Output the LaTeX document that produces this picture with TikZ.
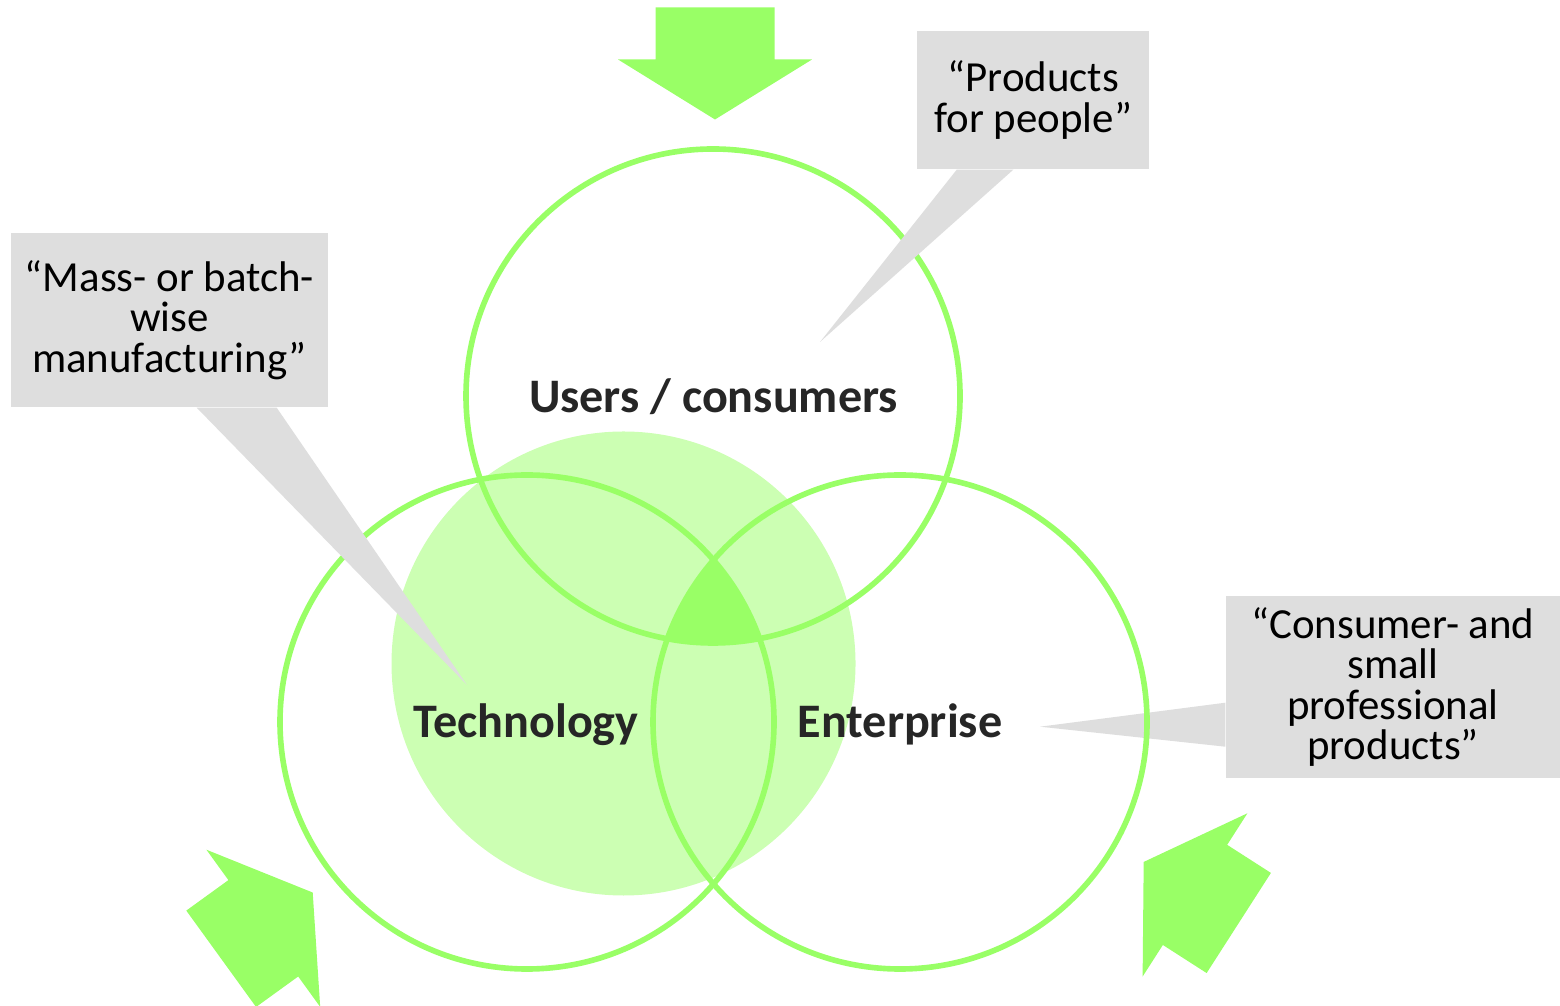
\documentclass[tikz,border=0pt]{standalone}
\usepackage{fontspec}
\setmainfont{Carlito}
\usetikzlibrary{calc}
\definecolor{vgreen}{HTML}{99FF66}
\definecolor{vlight}{HTML}{CCFFB3}
\definecolor{callgrey}{HTML}{DEDEDE}
\definecolor{nametext}{HTML}{262626}
\setlength{\lineskiplimit}{-20pt}
\tikzset{
ring/.style={draw=vgreen, line width=1.6pt},
setname/.style={anchor=base, inner sep=0pt, text=nametext, font=\fontsize{13.7}{16}\selectfont\bfseries},
callout/.style={fill=callgrey, inner sep=0pt, align=center, font=\fontsize{12.2}{11.5}\selectfont},
}

\begin{document}
\begin{tikzpicture}
\useasboundingbox (0,0) rectangle (15.6,10.05);
\clip (0,0) rectangle (15.6,10.05);
%\draw[help lines] (0,0) grid (15,10);
\coordinate (cu) at (7.13,6.09);%users
\coordinate (ct) at (5.27,2.83);%technology
\coordinate (ce) at (9.00,2.83);%enterprise

\fill[vlight] (6.235,3.415) circle (2.32);%shaded disc

\begin{scope}%part common to all three
\clip (ct) circle (2.47);
\clip (ce) circle (2.47);
\fill[vgreen] (cu) circle (2.47);
\end{scope}

% callout on the right sits under the rings
\node[callout, minimum width=3.34cm, minimum height=1.82cm] (consumer) at (13.93,3.18) {“Consumer- and\\small\\professional\\products”};
\coordinate (consumertip) at (10.40,2.783);
\fill[callgrey] ([yshift=-0.157cm]consumer.west) -- (consumertip) -- ([yshift=-0.597cm]consumer.west) -- cycle;

\draw[ring] (cu) circle (2.47);
\draw[ring] (ct) circle (2.47);
\draw[ring] (ce) circle (2.47);

\node[setname] (users) at (7.135,5.925) {Users / consumers};
\node[setname] (tech) at (5.26,2.67) {Technology};
\node[setname] (ent) at (9.00,2.67) {Enterprise};

\node[callout, minimum width=3.17cm, minimum height=1.74cm] (mass) at (1.695,6.85) {“Mass- or batch-\\wise\\manufacturing”};
\coordinate (masstip) at (4.67,3.20);
\fill[callgrey] ([xshift=0.272cm]mass.south) -- (masstip) -- ([xshift=1.072cm]mass.south) -- cycle;

\node[callout, minimum width=2.32cm, minimum height=1.38cm] (people) at (10.333,9.05) {“Products\\for people”};
\coordinate (peopletip) at (8.20,6.63);
\fill[callgrey] ([xshift=-0.766cm]people.south) -- (peopletip) -- ([xshift=-0.2cm]people.south) -- cycle;

\fill[vgreen, shift={(7.15,9.455)}, rotate=-90] (-0.52,-0.595) -- (0,-0.595) -- (0,-0.97) -- (0.60,0) -- (0,0.97) -- (0,0.595) -- (-0.52,0.595) -- cycle;%top arrow
\fill[vgreen, shift={(2.633,0.767)}, rotate=35.9] (-0.52,-0.595) -- (0,-0.595) -- (0,-0.97) -- (0.61,0) -- (0,0.97) -- (0,0.595) -- (-0.52,0.595) -- cycle;%lower left arrow
\fill[vgreen, shift={(11.95,1.101)}, rotate=147.3] (-0.52,-0.595) -- (0,-0.595) -- (0,-0.97) -- (0.61,0) -- (0,0.97) -- (0,0.595) -- (-0.52,0.595) -- cycle;%lower right arrow
\end{tikzpicture}
\end{document}
